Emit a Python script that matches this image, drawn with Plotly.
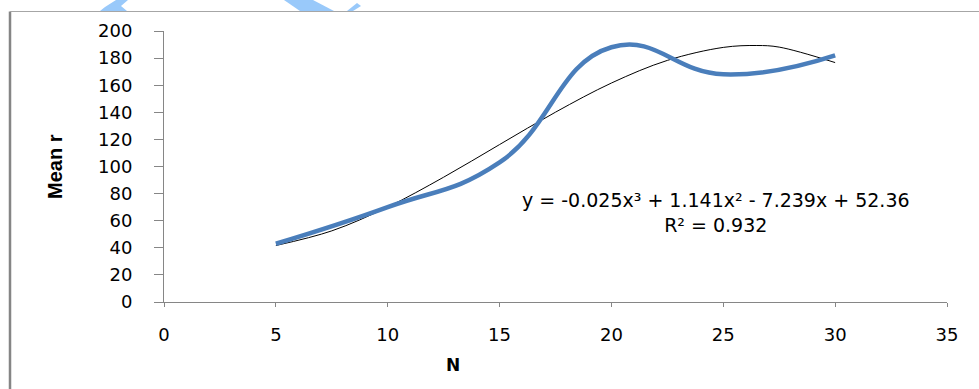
import plotly.graph_objects as go

# ---- data ----
n_values = [5, 10, 15, 20, 25, 30]
mean_r = [43, 70, 103, 188, 168, 182]

trend_n = [5, 7.5, 10, 12.5, 15, 17.5, 20, 22.5, 25, 26.5, 27.5, 30]
trend_r = [41.7, 52.5, 70.1, 92.1, 116.2, 140.1, 161.6, 178.3, 187.9, 189.3, 188.1, 176.7]

x_ticks = [0, 5, 10, 15, 20, 25, 30, 35]
y_ticks = [0, 20, 40, 60, 80, 100, 120, 140, 160, 180, 200]

equation = "y = -0.025x³ + 1.141x² - 7.239x + 52.36<br>R² = 0.932"

W, H = 979, 389
L, R, T, B = 164, 32, 31, 87
PW, PH = W - L - R, H - T - B


def px(xp):
    return (xp - L) / PW


def py(yp):
    return (H - B - yp) / PH


def path(points):
    return "M " + " L ".join(f"{px(a):.5f},{py(b):.5f}" for a, b in points) + " Z"


fig = go.Figure()
fig.add_trace(go.Scatter(
    x=trend_n, y=trend_r, mode="lines",
    line=dict(color="black", width=1, shape="spline", smoothing=1.0),
    showlegend=False, hoverinfo="skip"))
fig.add_trace(go.Scatter(
    x=n_values, y=mean_r, mode="lines",
    line=dict(color="#4A7EBB", width=4.5, shape="spline", smoothing=1.3),
    showlegend=False))

axis_col = "#868686"
fig.update_xaxes(range=[0, 35], tickvals=x_ticks, ticktext=[str(v) for v in x_ticks],
                 showgrid=False, zeroline=False, showline=True, linecolor=axis_col,
                 linewidth=1, ticks="outside", ticklen=4, tickcolor=axis_col,
                 ticklabelstandoff=12,
                 tickfont=dict(family="DejaVu Sans", size=18, color="black"))
fig.update_yaxes(range=[0, 200], tickvals=y_ticks, ticktext=[str(v) for v in y_ticks],
                 showgrid=False, zeroline=False, showline=True, linecolor=axis_col,
                 linewidth=1, ticks="outside", ticklen=9, tickcolor=axis_col,
                 ticklabelstandoff=18,
                 tickfont=dict(family="DejaVu Sans", size=18, color="black"))

shapes = [
    # chart border (left and top)
    dict(type="line", xref="paper", yref="paper", x0=px(10), x1=px(10), y0=py(11.5), y1=py(395),
         line=dict(color="#858585", width=2.5)),
    dict(type="line", xref="paper", yref="paper", x0=px(10), x1=px(985), y0=py(11.5), y1=py(11.5),
         line=dict(color="#A6A6A6", width=1)),
    # light-blue streaks at the top edge
    dict(type="path", xref="paper", yref="paper", fillcolor="#99C9FA", line=dict(width=0),
         path=path([(100, 11), (127, 11), (121, 6), (128, 0), (116, 0), (105, 7)])),
    dict(type="path", xref="paper", yref="paper", fillcolor="#99C9FA", line=dict(width=0),
         path=path([(284, 0), (313, 0), (334, 11), (300, 11)])),
    dict(type="path", xref="paper", yref="paper", fillcolor="#99C9FA", line=dict(width=0),
         path=path([(347, 11), (353, 11), (361, 6), (357, 3)])),
]

annotations = [
    dict(text=equation, xref="paper", yref="paper", x=px(716), y=py(212),
         xanchor="center", yanchor="middle", showarrow=False, align="center",
         font=dict(family="DejaVu Sans", size=19, color="black")),
    dict(text="<b>Mean r</b>", xref="paper", yref="paper", x=px(55), y=py(167),
         xanchor="center", yanchor="middle", showarrow=False, textangle=-90,
         font=dict(family="Liberation Sans Narrow, Liberation Sans", size=20, color="black")),
    dict(text="<b>N</b>", xref="paper", yref="paper", x=px(453), y=py(365),
         xanchor="center", yanchor="middle", showarrow=False,
         font=dict(family="DejaVu Sans", size=17, color="black")),
]

fig.update_layout(
    width=W, height=H,
    margin=dict(l=L, r=R, t=T, b=B),
    paper_bgcolor="white", plot_bgcolor="white",
    shapes=shapes, annotations=annotations,
    showlegend=False,
)

fig.write_html("out.html", config={"displayModeBar": False},
               post_script="document.body.style.margin='0';document.body.style.overflow='hidden';")
